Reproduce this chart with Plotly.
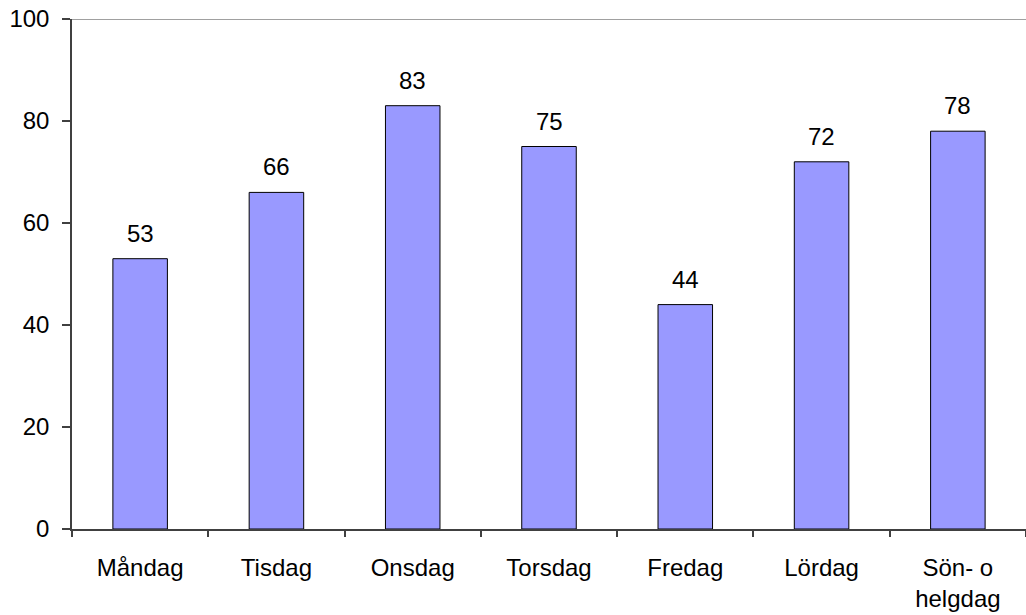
import plotly.graph_objects as go

days = ["Måndag", "Tisdag", "Onsdag", "Torsdag", "Fredag", "Lördag", "Sön- o<br>helgdag"]
values = [53, 66, 83, 75, 44, 72, 78]
y_ticks = [0, 20, 40, 60, 80, 100]

font_family = "Liberation Sans, Arial, sans-serif"
font_size = 24

fig = go.Figure()
fig.add_trace(go.Bar(
    x=days,
    y=values,
    width=0.4,
    marker=dict(color="#9999FF", line=dict(color="#000000", width=1)),
    hoverinfo="x+y",
))

# value labels above each bar
for d, v in zip(days, values):
    fig.add_annotation(
        x=d, y=v, text=str(v), showarrow=False,
        yanchor="bottom", yshift=10,
        font=dict(family=font_family, size=font_size, color="#000000"),
    )

# thin line across the top of the plot area
fig.add_shape(
    type="line", xref="paper", yref="y",
    x0=0, x1=1, y0=100, y1=100,
    line=dict(color="#808080", width=1.5),
)

fig.update_layout(
    width=1026,
    height=615,
    margin=dict(l=72, r=0, t=19, b=86),
    paper_bgcolor="#FFFFFF",
    plot_bgcolor="#FFFFFF",
    showlegend=False,
    font=dict(family=font_family, size=font_size, color="#000000"),
    bargap=0.6,
)

fig.update_xaxes(
    type="category",
    showline=True, linecolor="#404040", linewidth=1.5,
    ticks="outside", tickson="boundaries", ticklen=6,
    tickcolor="#404040", tickwidth=1.5,
    ticklabelstandoff=16,
    showgrid=False,
    tickfont=dict(family=font_family, size=font_size, color="#000000"),
)

fig.update_yaxes(
    range=[0, 100],
    tickvals=y_ticks,
    showline=True, linecolor="#404040", linewidth=1.5,
    ticks="outside", ticklen=8, tickcolor="#404040", tickwidth=1.5,
    ticklabelstandoff=8,
    showgrid=False, zeroline=False,
    tickfont=dict(family=font_family, size=font_size, color="#000000"),
)

fig.write_html("out.html")
